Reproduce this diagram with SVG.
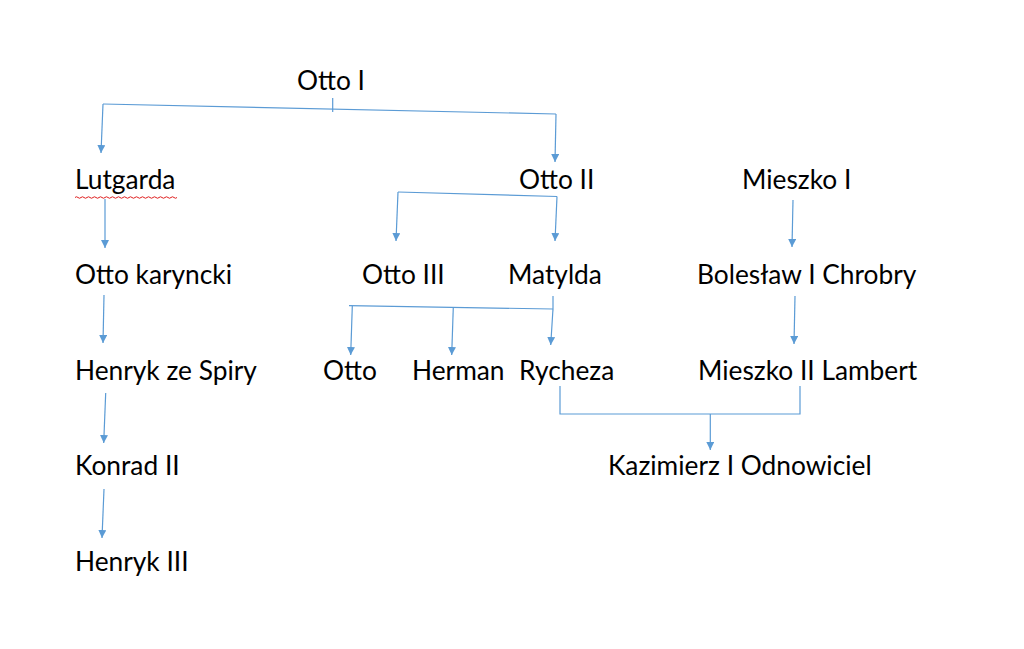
<svg xmlns="http://www.w3.org/2000/svg" width="1024" height="649" viewBox="0 0 1024 649">
<defs>
<style>
text{font-family:Lato,"Open Sans","Liberation Sans",sans-serif;font-size:26.3px;fill:#000}
.c{stroke:#5B9BD5;stroke-width:1.2;fill:none}
</style>
<marker id="a" viewBox="0 0 10 10" refX="10" refY="5" markerWidth="8" markerHeight="8" markerUnits="userSpaceOnUse" orient="auto"><path d="M0,0L10,5L0,10z" fill="#5B9BD5"/></marker>
</defs>
<rect width="1024" height="649" fill="#fff"/>
<g id="connectors">
<path class="c" d="M332.7,98V112"/>
<path class="c" d="M103,104L556,114"/>
<path class="c" d="M103,104L101,153" marker-end="url(#a)"/>
<path class="c" d="M556,114L555,162" marker-end="url(#a)"/>
<path class="c" d="M398,192L557,196.5"/>
<path class="c" d="M398,192L396,241" marker-end="url(#a)"/>
<path class="c" d="M557,196.5L555,241" marker-end="url(#a)"/>
<path class="c" d="M553,296L553,309"/>
<path class="c" d="M349,305.7L553,309"/>
<path class="c" d="M352.3,306L350.7,355" marker-end="url(#a)"/>
<path class="c" d="M453.3,307L451.7,355" marker-end="url(#a)"/>
<path class="c" d="M553,309L550.7,345" marker-end="url(#a)"/>
<path class="c" d="M793,200L792,247" marker-end="url(#a)"/>
<path class="c" d="M795,296L794,344" marker-end="url(#a)"/>
<path class="c" d="M560,386V414H800V386"/>
<path class="c" d="M710.3,414V450" marker-end="url(#a)"/>
<path class="c" d="M105,199L105,248" marker-end="url(#a)"/>
<path class="c" d="M104,295L103,343" marker-end="url(#a)"/>
<path class="c" d="M105.7,393L103.7,443" marker-end="url(#a)"/>
<path class="c" d="M104,489L102,538" marker-end="url(#a)"/>
</g>
<g id="n-otto1"><text x="297" y="90">Otto I</text></g>
<g id="n-lutgarda"><text x="75" y="189">Lutgarda</text><path d="M75,197.5q1.5,-1.5 3,0t3,0t3,0t3,0t3,0t3,0t3,0t3,0t3,0t3,0t3,0t3,0t3,0t3,0t3,0t3,0t3,0t3,0t3,0t3,0t3,0t3,0t3,0t3,0t3,0t3,0t3,0t3,0t3,0t3,0t3,0t3,0t3,0t3,0" stroke="#e02020" stroke-width="1" fill="none"/></g>
<g id="n-otto2"><text x="519" y="189">Otto II</text></g>
<g id="n-mieszko1"><text x="742" y="189">Mieszko I</text></g>
<g id="n-ottokar"><text x="75" y="284">Otto karyncki</text></g>
<g id="n-otto3"><text x="362" y="284">Otto III</text></g>
<g id="n-matylda"><text x="508" y="284">Matylda</text></g>
<g id="n-boleslaw"><text x="697" y="284">Bolesław I Chrobry</text></g>
<g id="n-henrykspiry"><text x="75" y="380">Henryk ze Spiry</text></g>
<g id="n-otto"><text x="323" y="380">Otto</text></g>
<g id="n-herman"><text x="412" y="380">Herman</text></g>
<g id="n-rycheza"><text x="519" y="380">Rycheza</text></g>
<g id="n-mieszko2"><text x="698" y="380">Mieszko II Lambert</text></g>
<g id="n-konrad"><text x="75" y="475">Konrad II</text></g>
<g id="n-kazimierz"><text x="608" y="475">Kazimierz I Odnowiciel</text></g>
<g id="n-henryk3"><text x="75" y="571">Henryk III</text></g>
</svg>
